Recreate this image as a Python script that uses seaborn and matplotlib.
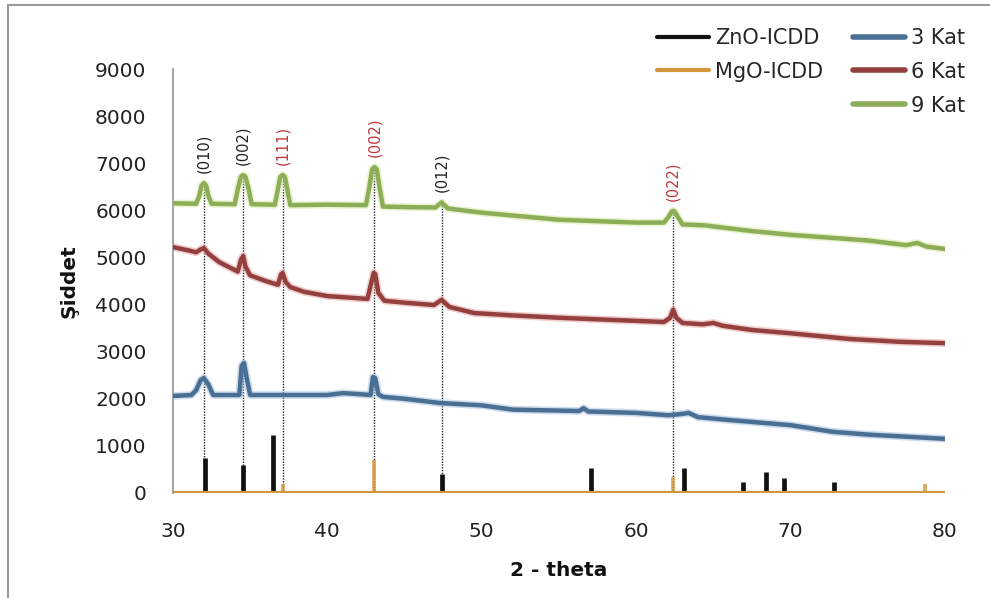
import numpy as np
import pandas as pd
import matplotlib
matplotlib.use("Agg")
import matplotlib.pyplot as plt
import matplotlib.patheffects as pe
from matplotlib.lines import Line2D
import seaborn as sns

# ---- XRD patterns (2-theta, intensity) ----
kat3_x = [30, 31.2, 31.5, 31.8, 32.0, 32.3, 32.6, 34.3, 34.45, 34.6, 34.8, 35.0, 38, 40,
          41.0, 42.0, 42.8, 42.95, 43.1, 43.3, 43.6, 45, 47.3, 50, 52, 56.3, 56.6, 56.9,
          60, 62.1, 63.0, 63.4, 64.0, 66, 70, 72.7, 75, 80]
kat3_y = [2060, 2080, 2180, 2400, 2440, 2300, 2080, 2080, 2700, 2760, 2400, 2080, 2080, 2080,
          2120, 2100, 2080, 2460, 2440, 2100, 2040, 2000, 1910, 1860, 1770, 1740, 1800, 1730,
          1700, 1650, 1680, 1700, 1610, 1550, 1440, 1300, 1240, 1150]

kat6_x = [30, 31.0, 31.5, 31.8, 32.0, 32.3, 33.0, 34.2, 34.4, 34.55, 34.7, 35.0, 36.0, 36.8,
          37.0, 37.1, 37.3, 37.6, 38.5, 40, 42.6, 42.8, 43.0, 43.1, 43.3, 43.7, 45, 46.9,
          47.4, 47.9, 49.5, 52, 55, 58, 61.8, 62.2, 62.4, 62.6, 63.0, 64.3, 65.0, 65.6,
          67.5, 70, 73.8, 77, 80]
kat6_y = [5220, 5150, 5110, 5170, 5200, 5080, 4900, 4700, 4950, 5030, 4800, 4620, 4500, 4420,
          4640, 4670, 4480, 4370, 4270, 4180, 4120, 4400, 4670, 4650, 4250, 4080, 4040, 3990,
          4100, 3950, 3820, 3770, 3720, 3680, 3630, 3720, 3890, 3720, 3610, 3580, 3610, 3550,
          3460, 3390, 3270, 3210, 3180]

kat9_x = [30, 31.5, 31.7, 31.85, 32.0, 32.15, 32.3, 32.5, 34.0, 34.2, 34.4, 34.55, 34.7,
          34.9, 35.1, 36.6, 36.8, 36.95, 37.1, 37.25, 37.4, 37.6, 40, 42.5, 42.7, 42.9, 43.05,
          43.2, 43.4, 43.6, 45, 47.0, 47.4, 47.8, 50, 55, 60, 61.8, 62.1, 62.3, 62.4, 62.5,
          62.7, 63.0, 64.5, 65.2, 67.5, 70, 72.5, 75, 77.5, 78.2, 78.8, 80]
kat9_y = [6150, 6140, 6300, 6520, 6580, 6520, 6300, 6140, 6130, 6450, 6710, 6750, 6710,
          6450, 6130, 6120, 6450, 6710, 6750, 6710, 6450, 6110, 6120, 6110, 6450, 6870, 6920,
          6870, 6450, 6080, 6070, 6060, 6170, 6040, 5950, 5800, 5740, 5740, 5860, 5970, 5990,
          5970, 5860, 5700, 5680, 5650, 5560, 5480, 5420, 5360, 5260, 5310, 5230, 5180]

# ---- reference patterns (ICDD stick positions / intensities) ----
zno_pos = [32.05, 34.55, 36.5, 47.4, 57.1, 63.1, 66.9, 68.4, 69.6, 72.8]
zno_int = [740, 600, 1230, 400, 530, 530, 230, 450, 320, 230]
mgo_pos = [37.1, 43.0, 62.4, 78.7]
mgo_int = [190, 700, 340, 190]

# ---- indexed reflections ----
hkl_pos = [32.0, 34.55, 37.1, 43.05, 47.4, 62.4]
hkl_txt = ["(010)", "(002)", "(111)", "(002)", "(012)", "(022)"]
hkl_phase = ["ZnO", "ZnO", "MgO", "MgO", "ZnO", "MgO"]

series_names = ["3 Kat", "6 Kat", "9 Kat"]
series_colors = ["#4a6f95", "#93403f", "#8cae58"]
series_glow = ["#9db8d6", "#e3a0a0", "#d4e8a0"]
zno_color = "#111111"
mgo_color = "#d4963c"
phase_txt_color = {"ZnO": "#222222", "MgO": "#c0393b"}

sns.set_theme(style="white")
plt.rcParams["font.family"] = ["DejaVu Sans"]

fig = plt.figure(figsize=(9.9, 5.98), dpi=100)
ax = fig.add_axes([0.1747, 0.1756, 0.7798, 0.709])

# reference sticks
ax.vlines(zno_pos, 0, zno_int, color=zno_color, lw=3.4, zorder=3)
ax.vlines(mgo_pos, 0, mgo_int, color=mgo_color, lw=2.6, alpha=0.85, zorder=3)
ax.plot([30, 80], [0, 0], color=mgo_color, lw=3, zorder=4, solid_capstyle="butt")

# measured patterns
frames = [
    pd.DataFrame({"theta": kat3_x, "I": kat3_y}),
    pd.DataFrame({"theta": kat6_x, "I": kat6_y}),
    pd.DataFrame({"theta": kat9_x, "I": kat9_y}),
]
for df, col, glow in zip(frames, series_colors, series_glow):
    sns.lineplot(data=df, x="theta", y="I", color=col, lw=3.2, sort=False,
                 estimator=None, ax=ax, legend=False, zorder=5,
                 path_effects=[pe.Stroke(linewidth=5.5, foreground=glow, alpha=0.5),
                               pe.Normal()])

# dotted guide lines and hkl labels above the 9 Kat peaks
peak_top = np.interp(hkl_pos, kat9_x, kat9_y)
for xp, top, txt, ph in zip(hkl_pos, peak_top, hkl_txt, hkl_phase):
    ax.plot([xp, xp], [0, top], color="#222222", lw=1.0, ls=(0, (1, 1)), zorder=2)
    ax.text(xp, top + 210, txt, rotation=90, ha="center", va="bottom",
            fontsize=10.5, color=phase_txt_color[ph])

ax.set_xlim(30, 80)
ax.set_ylim(0, 9000)
ax.set_xticks(np.arange(30, 81, 10))
ax.set_yticks(np.arange(0, 9001, 1000))
ax.tick_params(axis="both", length=0, labelsize=14.5, colors="#222222")
ax.tick_params(axis="y", pad=19)
ax.tick_params(axis="x", pad=21)
for s in ["top", "right", "bottom"]:
    ax.spines[s].set_visible(False)
ax.spines["left"].set_color("#a6a6a6")
ax.spines["left"].set_linewidth(1.5)
ax.grid(False)

ax.set_xlabel("2 - theta", fontsize=14.5, fontweight="bold", labelpad=14, color="#111111")
ax.set_ylabel("Şiddet", fontsize=14.5, fontweight="bold", labelpad=12, color="#111111")

# legend: references in the first column, samples in the second
handles = [Line2D([], [], color=zno_color, lw=3),
           Line2D([], [], color=mgo_color, lw=3),
           Line2D([], [], color="none", lw=0)]
labels = ["ZnO-ICDD", "MgO-ICDD", ""]
for name, col in zip(series_names, series_colors):
    handles.append(Line2D([], [], color=col, lw=4))
    labels.append(name)
fig.legend(handles, labels, ncol=2, loc="upper left",
           bbox_to_anchor=(657 / 990, 1 - 28 / 598), frameon=False,
           fontsize=15, handlelength=2.5, handletextpad=0.3,
           columnspacing=1.4, labelspacing=0.66, borderpad=0, borderaxespad=0)

# chart-area border
fig.add_artist(Line2D([8 / 990, 8 / 990], [0, 1 - 5 / 598], transform=fig.transFigure,
                      color="#9a9a9a", lw=1.5))
fig.add_artist(Line2D([8 / 990, 1], [1 - 5 / 598, 1 - 5 / 598], transform=fig.transFigure,
                      color="#9a9a9a", lw=1.5))

fig.savefig("out.png", dpi=100, facecolor="white")
